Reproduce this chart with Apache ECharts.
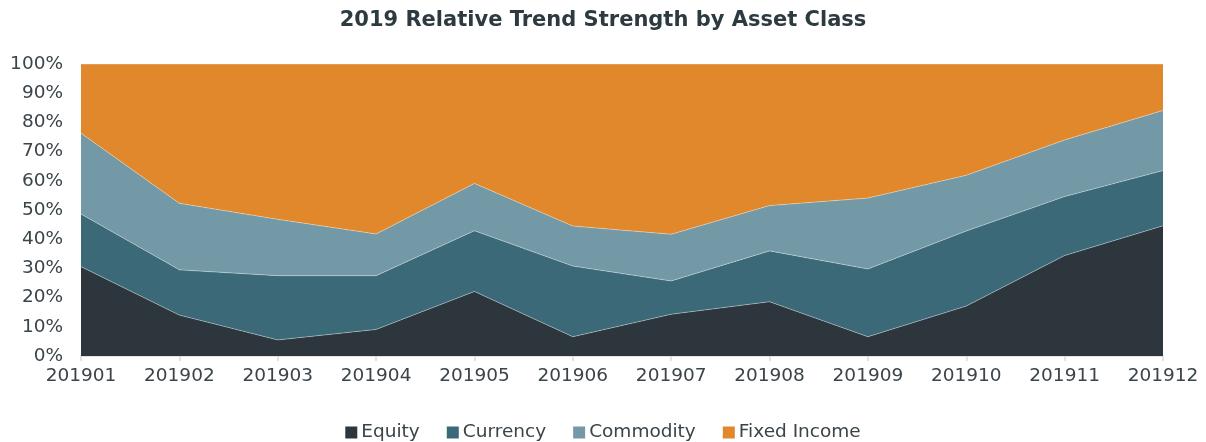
<!DOCTYPE html>
<html>
<head>
<meta charset="utf-8">
<script src="https://cdn.jsdelivr.net/npm/echarts@6/dist/echarts.min.js"></script>
<style>
  html, body { margin: 0; padding: 0; background: #fff; }
  #trend { width: 1206px; height: 442px; }
</style>
</head>
<body>
<div id="trend"></div>
<script>
// 月份
var months = ['201901','201902','201903','201904','201905','201906','201907','201908','201909','201910','201911','201912'];
// 各资产类别占比 (%)
var equity      = [30.6, 14.0, 5.5, 9.1, 22.1, 6.6, 14.3, 18.6, 6.6, 17.1, 34.4, 44.6];
var currency    = [18.0, 15.5, 22.0, 18.4, 20.8, 24.2, 11.4, 17.4, 23.2, 25.7, 20.2, 18.9];
var commodity   = [27.7, 22.8, 19.3, 14.3, 16.2, 13.7, 16.0, 15.5, 24.3, 19.1, 19.4, 20.6];
var fixedIncome = [23.7, 47.7, 53.2, 58.2, 40.9, 55.5, 58.3, 48.5, 45.9, 38.1, 26.0, 15.9];

var fontName = 'DejaVu Sans, Verdana, sans-serif';

function areaSeries(name, data, color){
    return {
        name: name,
        type: 'line',
        stack: 'total',
        symbol: 'none',
        data: data,
        lineStyle: {color: 'rgba(255,255,255,0.35)', width: 1},
        areaStyle: {color: color, opacity: 1},
        itemStyle: {color: color},
        emphasis: {disabled: true}
    };
}

function trendChart(){
    var option = {
        backgroundColor: '#fff',
        animation: false,
        title: {
            text: '2019 Relative Trend Strength by Asset Class',
            left: 'center',
            top: 5,
            textStyle: {color: '#2d3a40', fontSize: 21, fontWeight: 'bold', fontFamily: fontName}
        },
        legend: {
            top: 418,
            left: 'center',
            itemWidth: 12,
            itemHeight: 12,
            itemGap: 27,
            icon: 'rect',
            selectedMode: false,
            textStyle: {color: '#3a4449', fontSize: 18.5, fontFamily: fontName, padding: [0, 0, 0, -1]},
            data: ['Equity', 'Currency', 'Commodity', 'Fixed Income']
        },
        grid: {
            left: 81,
            right: 43,
            top: 64,
            bottom: 86
        },
        xAxis: {
            type: 'category',
            boundaryGap: false,
            data: months,
            axisLine: {lineStyle: {color: '#d9d9d9', width: 1.5}},
            axisTick: {show: true, length: 5, lineStyle: {color: '#d9d9d9', width: 1.5}},
            axisLabel: {color: '#3a4449', fontSize: 18.5, fontFamily: fontName, margin: 11}
        },
        yAxis: {
            type: 'value',
            min: 0,
            max: 100,
            interval: 10,
            axisLine: {show: true, lineStyle: {color: '#d9d9d9'}},
            axisTick: {show: false},
            splitLine: {show: false},
            axisLabel: {formatter: '{value}%', color: '#3a4449', fontSize: 18.5, fontFamily: fontName, margin: 18}
        },
        series: [
            areaSeries('Equity', equity, '#2d363c'),
            areaSeries('Currency', currency, '#3b6978'),
            areaSeries('Commodity', commodity, '#7399a7'),
            areaSeries('Fixed Income', fixedIncome, '#e0882b')
        ]
    };
    var myChart = echarts.init(document.getElementById('trend'));
    myChart.setOption(option);
}
trendChart();
</script>
</body>
</html>
